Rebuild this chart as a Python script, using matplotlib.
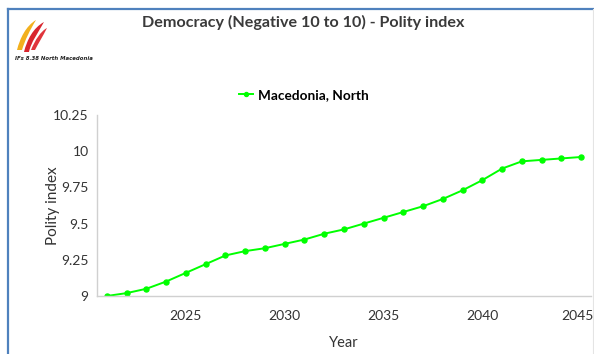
import matplotlib
matplotlib.use("Agg")
import matplotlib.pyplot as plt
from matplotlib.patches import PathPatch
from matplotlib.path import Path
from matplotlib.lines import Line2D
from matplotlib.transforms import ScaledTranslation

years = list(range(2021, 2046))
polity = [9.00, 9.02, 9.05, 9.10, 9.16, 9.22, 9.28, 9.31, 9.33, 9.36,
          9.39, 9.43, 9.46, 9.50, 9.54, 9.58, 9.62, 9.67, 9.73, 9.80,
          9.88, 9.93, 9.94, 9.95, 9.96]
series_name = "Macedonia, North"
title = "Democracy (Negative 10 to 10) - Polity index"
x_ticks = [2025, 2030, 2035, 2040, 2045]
y_ticks = [9, 9.25, 9.5, 9.75, 10, 10.25]
y_tick_labels = ["9", "9.25", "9.5", "9.75", "10", "10.25"]

W, H = 594, 354
fig = plt.figure(figsize=(W / 100, H / 100), dpi=100)
fig.patch.set_facecolor("white")

def fx(px):
    return px / W

def fy(py):
    return 1 - py / H

# panel frame (blue top and left edges)
frame_color = "#4f81bd"
fig.add_artist(Line2D([fx(8), fx(594)], [fy(9), fy(9)], color=frame_color, lw=1.6))
fig.add_artist(Line2D([fx(8), fx(8)], [fy(9), fy(354)], color=frame_color, lw=1.6))
fig.add_artist(Line2D([fx(592.5), fx(592.5)], [fy(9), fy(354)], color="#e4e4e4", lw=0.8))

# logo swooshes
def swoosh(pts, color):
    verts = [(fx(x), fy(y)) for x, y in pts]
    codes = [Path.MOVETO] + [Path.CURVE4] * (len(verts) - 2) + [Path.CLOSEPOLY]
    p = PathPatch(Path(verts, codes), facecolor=color, edgecolor="none",
                  transform=fig.transFigure)
    fig.add_artist(p)

swoosh([(17, 50), (20, 38), (26, 26), (36, 20), (30, 30), (25, 40), (22, 50), (17, 50)], "#f2b01e")
swoosh([(24, 52), (27, 40), (33, 28), (44, 22), (38, 33), (31, 42), (29, 52), (24, 52)], "#d8262e")
swoosh([(31, 50), (35, 40), (41, 31), (47, 28), (43, 36), (38, 44), (35, 50), (31, 50)], "#e0353c")
fig.text(fx(15), fy(58), "IFs 8.38 North Macedonia", fontsize=3.9, fontstyle="italic",
         fontweight="bold", color="#222222", va="center", ha="left", family="DejaVu Sans")

ax = fig.add_axes([fx(97), fy(296), fx(591) - fx(97), fy(115) - fy(296)])
ax.plot(years, polity, color="#00ff00", lw=1.4, marker="o", markersize=3.6,
        label=series_name)
ax.set_xlim(2020.5, 2045.5)
ax.set_ylim(9, 10.25)
ax.set_xticks(x_ticks)
ax.set_yticks(y_ticks)
ax.set_yticklabels(y_tick_labels)
for s in ["top", "right"]:
    ax.spines[s].set_visible(False)
for s in ["left", "bottom"]:
    ax.spines[s].set_color("#d0d0d0")
    ax.spines[s].set_linewidth(1.0)
ax.tick_params(length=0, labelsize=10, colors="#333333", pad=10)
ax.tick_params(axis="y", pad=6)
for lab in ax.get_xticklabels() + ax.get_yticklabels():
    lab.set_family("Lato")
fig.canvas.draw()
last = ax.get_xticklabels()[-1]
last.set_transform(last.get_transform() + ScaledTranslation(-4 / 100, 0, fig.dpi_scale_trans))

ax.set_xlabel("Year", fontsize=10.5, family="Lato", color="#333333", labelpad=10)
ax.set_ylabel("Polity index", fontsize=11, family="Lato", color="#333333", labelpad=-5)

fig.text(fx(303), fy(22), title, fontsize=11.6, fontweight="bold", family="Lato",
         color="#3a3a3a", ha="center", va="center")

leg = fig.legend(handles=ax.get_lines(), loc="center", bbox_to_anchor=(fx(304), fy(95)),
                 frameon=False, prop={"family": "Lato", "weight": "bold", "size": 9.8},
                 handlelength=1.0, handletextpad=0.4, markerscale=0.8)

fig.savefig("out.png", dpi=100)
